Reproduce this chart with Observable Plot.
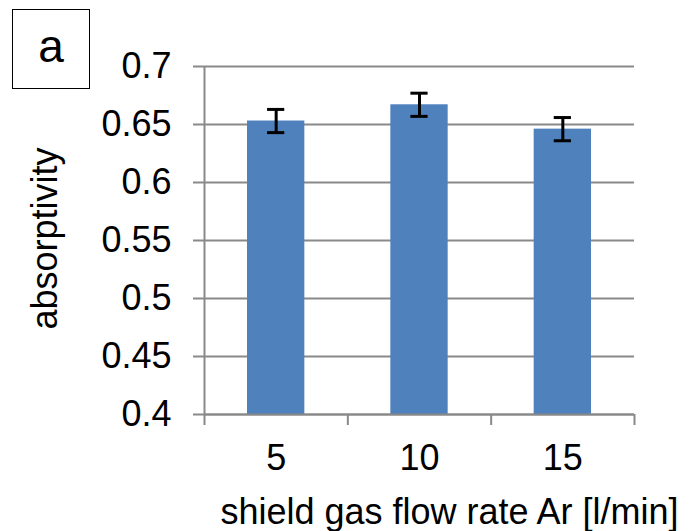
<!DOCTYPE html>
<html>
<head>
<meta charset="utf-8">
<script src="https://cdn.jsdelivr.net/npm/d3@7"></script>
<script src="https://cdn.jsdelivr.net/npm/@observablehq/plot@0.6"></script>
<style>
  html, body { margin: 0; padding: 0; background: #fff; }
  #chart { position: relative; width: 691px; height: 531px; font-family: "Liberation Sans", Arial, sans-serif; }
  #panel {
    position: absolute; left: 12px; top: 9px; width: 76px; height: 78px;
    border: 1.5px solid #000; background: #fff;
    font-size: 46px; line-height: 72px; text-align: center; color: #000;
  }
</style>
</head>
<body>
<div id="chart"><div id="panel">a</div></div>
<script>
// Shield gas flow rate (Ar, l/min) categories
const flowRates = ["5", "10", "15"];
// Mean absorptivity per flow rate
const absorptivity = [0.653, 0.667, 0.646];
// Standard deviation shown as error bars
const errors = [0.010, 0.010, 0.010];
// Y axis tick values
const yTicks = [0.4, 0.45, 0.5, 0.55, 0.6, 0.65, 0.7];
const yLabel = "absorptivity";
const xLabel = "shield gas flow rate Ar [l/min]";

// Each category occupies one unit on a linear x scale; bars fill 40% of it
const rows = flowRates.map((c, i) => ({
  cat: c,
  x1: i + 0.3,
  x2: i + 0.7,
  xc: i + 0.5,
  v: absorptivity[i],
  lo: absorptivity[i] - errors[i],
  hi: absorptivity[i] + errors[i]
}));
const bounds = d3.range(flowRates.length + 1);
const yMin = yTicks[0];
const gridColor = "#898989";

const chart = Plot.plot({
  width: 691,
  height: 531,
  marginLeft: 204,
  marginRight: 57,
  marginTop: 66,
  marginBottom: 117,
  style: { fontFamily: "'Liberation Sans', Arial, sans-serif", background: "transparent", color: "#000" },
  x: { type: "linear", domain: [0, flowRates.length], axis: null },
  y: { type: "linear", domain: [yTicks[0], yTicks[yTicks.length - 1]], axis: null },
  marks: [
    // horizontal gridlines
    Plot.ruleY(yTicks, { stroke: gridColor, strokeWidth: 2 }),
    // y ticks and labels
    Plot.axisY({ ticks: yTicks, tickSize: 11, tickPadding: 22, fontSize: 36,
      stroke: gridColor, strokeWidth: 2, fill: "#000", tickFormat: d => String(d) }),
    // vertical axis line
    Plot.ruleX([0], { stroke: gridColor, strokeWidth: 2 }),
    // category boundary ticks below the x axis
    Plot.ruleX(bounds, { x: d => d, y1: yMin, y2: yMin, insetBottom: -11, stroke: gridColor, strokeWidth: 2 }),
    // bars
    Plot.rectY(rows, { x1: "x1", x2: "x2", y1: yMin, y2: "v", fill: "#4F81BD" }),
    // x axis line drawn over the bar bases
    Plot.ruleY([yMin], { stroke: gridColor, strokeWidth: 2 }),
    // error bars with caps
    Plot.ruleX(rows, { x: "xc", y1: "lo", y2: "hi", stroke: "#000", strokeWidth: 3 }),
    Plot.ruleY(rows, { y: "lo", x1: d => d.xc - 0.06, x2: d => d.xc + 0.06, stroke: "#000", strokeWidth: 3 }),
    Plot.ruleY(rows, { y: "hi", x1: d => d.xc - 0.06, x2: d => d.xc + 0.06, stroke: "#000", strokeWidth: 3 }),
    // category labels
    Plot.text(rows, { x: "xc", y: yMin, text: "cat", fontSize: 36, lineAnchor: "bottom", dy: 55, fill: "#000" }),
    // axis titles
    Plot.text([xLabel], { frameAnchor: "bottom", dx: 30, dy: 109, lineAnchor: "bottom", fontSize: 36, fill: "#000" }),
    Plot.text([yLabel], { frameAnchor: "left", rotate: -90, dx: -148, dy: -2, textAnchor: "middle", lineAnchor: "bottom", fontSize: 36, fill: "#000" })
  ]
});
document.getElementById("chart").appendChild(chart);
</script>
</body>
</html>
